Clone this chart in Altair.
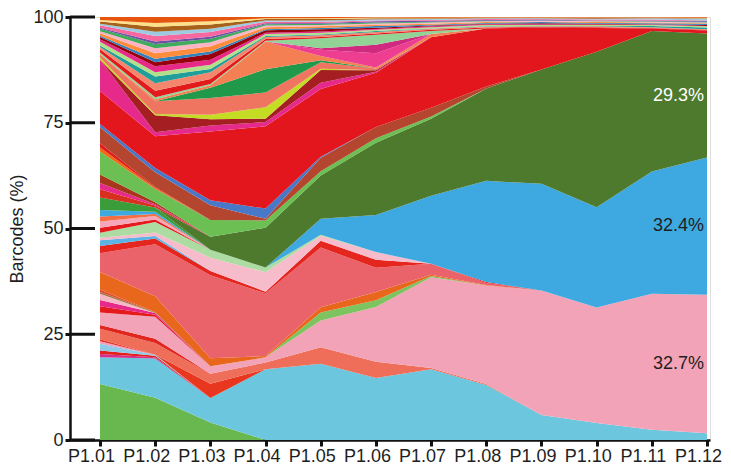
import altair as alt
import pandas as pd

timepoints = ["P1.01", "P1.02", "P1.03", "P1.04", "P1.05", "P1.06",
              "P1.07", "P1.08", "P1.09", "P1.10", "P1.11", "P1.12"]
y_ticks = [0, 25, 50, 75, 100]

# barcode shares (%) per time point, bottom of the stack first
green_base = [13.4, 10, 4.2, 0, 0, 0, 0, 0, 0, 0, 0, 0]
cyan_main = [6.4, 9.3, 5.8, 16.7, 18, 14.6, 16.7, 13, 5.9, 4, 2.4, 1.6]
s1 = [0.8, 0.3, 0, 0, 0, 0, 0, 0, 0, 0, 0, 0]
s2 = [0.8, 0.4, 0, 0, 0, 0, 0, 0, 0, 0, 0, 0]
s3 = [1.6, 0.2, 0, 0, 0, 0, 0, 0, 0, 0, 0, 0]
s4 = [0.6, 0, 0, 0, 0, 0, 0, 0, 0, 0, 0, 0]
red_a = [0.5, 0, 3.4, 0, 0, 0, 0, 0, 0, 0, 0, 0]
salmon_main = [2.5, 2.8, 2.4, 1.6, 3.9, 3.8, 0.3, 0.2, 0, 0, 0, 0]
red_b = [0.9, 1, 0, 0, 0, 0, 0, 0, 0, 0, 0, 0]
pink_main = [3, 5.2, 1.8, 1.2, 6.3, 12.9, 21.4, 23.3, 29.4, 27.3, 32.2, 32.7]
s5 = [1.5, 0.5, 0, 0, 0, 0, 0, 0, 0, 0, 0, 0]
s6 = [1.5, 0.4, 0, 0, 0, 0, 0, 0, 0, 0, 0, 0]
s7 = [1.5, 0, 0, 0, 0, 0, 0, 0, 0, 0, 0, 0]
s8 = [0.4, 0.2, 0, 0, 0, 0, 0, 0, 0, 0, 0, 0]
s9 = [0.6, 0, 0, 0, 0, 0, 0, 0, 0, 0, 0, 0]
lightgreen_a = [0, 0, 0, 0, 1.9, 1.6, 0.3, 0, 0, 0, 0, 0]
orange_main = [4.2, 3.8, 1.9, 0.3, 1.2, 1.9, 0.3, 0.1, 0, 0, 0, 0]
coral_main = [4.5, 12.3, 19.8, 14.8, 14.1, 5.7, 2.6, 0.5, 0, 0, 0, 0]
red_c = [1.7, 1.4, 1, 0.4, 1.6, 1.9, 0, 0.2, 0, 0, 0, 0]
m1 = [1.4, 0.6, 0, 0, 0, 0, 0, 0, 0, 0, 0, 0]
lightpink_main = [0.6, 0.8, 3.2, 4.6, 1.2, 1.8, 0, 0, 0, 0, 0, 0]
palegreen_main = [1.2, 2.5, 1.9, 1.1, 0.2, 0, 0, 0, 0, 0, 0, 0]
m2 = [1.2, 0.6, 0, 0, 0, 0, 0, 0, 0, 0, 0, 0]
m3 = [1.5, 0.8, 0, 0, 0, 0, 0, 0, 0, 0, 0, 0]
m4 = [1.2, 0.5, 0, 0, 0, 0, 0, 0, 0, 0, 0, 0]
blue_main = [1.5, 0.5, 0, 0, 3.8, 8.7, 16, 23.9, 25.2, 23.7, 28.9, 32.4]
m5 = [3, 1, 0, 0, 0, 0, 0, 0, 0, 0, 0, 0]
dkgreen_main = [0, 0, 3.1, 9.4, 10.2, 17, 18.2, 21.8, 27, 36.8, 33.2, 29.3]
l1 = [2, 0.5, 0, 0, 0, 0, 0, 0, 0, 0, 0, 0]
l2 = [1.5, 0.3, 0, 0, 0, 0, 0, 0, 0, 0, 0, 0]
l3 = [2, 0.5, 0, 0, 0, 0, 0, 0, 0, 0, 0, 0]
lightgreen_b = [5.5, 3.1, 4, 1.7, 1, 1.1, 0.5, 0, 0, 0, 0, 0]
l4 = [1, 0.3, 0, 0, 0, 0, 0, 0, 0, 0, 0, 0]
l5 = [1, 0.2, 0, 0, 0, 0, 0, 0, 0, 0, 0, 0]
brown_main = [3.8, 3.5, 3.5, 0.4, 3.2, 2.6, 2.1, 0.5, 0, 0, 0, 0]
blueline = [0.8, 1, 1.2, 2.4, 0.2, 0, 0, 0, 0, 0, 0, 0]
red_main = [7.9, 7.5, 16.4, 19.4, 16, 12.8, 16.6, 13.7, 9.9, 5.6, 0.6, 0.7]
magenta_main = [7.5, 1, 1.4, 1, 1.5, 0.2, 0, 0, 0, 0, 0, 0]
darkred_main = [0, 4, 1.5, 0.8, 3, 0.4, 0, 0, 0, 0, 0, 0]
yellowgreen = [0.5, 0.3, 1.1, 2.7, 0.3, 0, 0, 0, 0, 0, 0, 0]
salmon_top = [0.8, 3, 4, 3.5, 1.5, 0.4, 0, 0, 0, 0, 0, 0]
dkgreen_top = [0, 0, 2.4, 5.5, 0.5, 0, 0, 0, 0, 0, 0, 0]
orange_top = [0, 0.5, 0.6, 6.5, 1, 0.2, 0.8, 0, 0, 0, 0, 0]
hotpink = [0, 0, 0, 0, 1.5, 3.4, 0, 0, 0, 0, 0, 0]
magenta_top = [0, 0, 0, 0, 0.3, 2, 0, 0, 0, 0, 0, 0]
mint = [0.4, 0.5, 0.3, 0.2, 2.4, 2.3, 0.7, 0, 0, 0, 0, 0]
t1 = [0.8, 1.5, 1.2, 0.4, 0.3, 0.3, 0.3, 0.2, 0.2, 0.2, 0.1, 0.2]
t2 = [0.5, 1.8, 1.6, 0.5, 0.4, 0.4, 0.2, 0.2, 0.1, 0.2, 0.2, 0.1]
t3 = [0.4, 1.6, 0.8, 0.2, 0.2, 0.2, 0.1, 0.1, 0.1, 0.1, 0.3, 0.4]
t4 = [0.9, 1.0, 1.0, 0.5, 0.4, 0.3, 0.3, 0.3, 0.2, 0.2, 0.2, 0.3]
t5 = [0.6, 1.4, 1.2, 0.3, 0.3, 0.2, 0.2, 0.2, 0.2, 0.1, 0.1, 0.1]
t6 = [0.5, 1.0, 1.4, 0.6, 0.5, 0.3, 0.2, 0.1, 0.2, 0.2, 0.1, 0.2]
t7 = [0.3, 0.8, 0.6, 0.2, 0.3, 0.4, 0.2, 0.2, 0.3, 0.2, 0.2, 0.3]
t8 = [0.6, 1.3, 1.2, 0.5, 0.4, 0.3, 0.2, 0.2, 0.1, 0.2, 0.2, 0.1]
t9 = [0.5, 1.2, 1.0, 0.4, 0.3, 0.3, 0.3, 0.2, 0.2, 0.2, 0.2, 0.2]
t10 = [0.6, 1.0, 0.8, 0.3, 0.3, 0.2, 0.2, 0.1, 0.1, 0.1, 0.1, 0.2]
t11 = [0.2, 0.6, 0.5, 0.2, 0.2, 0.3, 0.2, 0.2, 0.2, 0.1, 0.2, 0.2]
t12 = [0.6, 1.3, 1.1, 0.4, 0.3, 0.2, 0.2, 0.2, 0.1, 0.2, 0.2, 0.1]
t13 = [0.4, 1.0, 0.8, 0.3, 0.3, 0.3, 0.2, 0.2, 0.2, 0.2, 0.3, 0.4]
t14 = [0.5, 1.2, 1.0, 0.3, 0.3, 0.2, 0.2, 0.1, 0.1, 0.2, 0.1, 0.1]
t15 = [0.4, 0.9, 0.8, 0.2, 0.2, 0.2, 0.1, 0.1, 0.1, 0.1, 0.1, 0.1]
t16 = [0.7, 1.4, 1.0, 0.3, 0.3, 0.1, 0.2, 0.1, 0.1, 0.1, 0.1, 0.2]

series = [
    ("green_base", green_base, "#69b84f"),
    ("cyan_main", cyan_main, "#6cc6de"),
    ("s1", s1, "#d6308a"),
    ("s2", s2, "#e3201b"),
    ("s3", s3, "#8fcbe6"),
    ("s4", s4, "#f29fc0"),
    ("red_a", red_a, "#e8361f"),
    ("salmon_main", salmon_main, "#ee6e5a"),
    ("red_b", red_b, "#e0261f"),
    ("pink_main", pink_main, "#f3a3b7"),
    ("s5", s5, "#e41a1c"),
    ("s6", s6, "#e7298a"),
    ("s7", s7, "#f6b8c6"),
    ("s8", s8, "#9c7a3c"),
    ("s9", s9, "#e34a33"),
    ("lightgreen_a", lightgreen_a, "#7dc35f"),
    ("orange_main", orange_main, "#e8671c"),
    ("coral_main", coral_main, "#ea636b"),
    ("red_c", red_c, "#e5261f"),
    ("m1", m1, "#5ab4e5"),
    ("lightpink_main", lightpink_main, "#f7bccb"),
    ("palegreen_main", palegreen_main, "#acdca2"),
    ("m2", m2, "#e41a1c"),
    ("m3", m3, "#f7a8b8"),
    ("m4", m4, "#f46d43"),
    ("blue_main", blue_main, "#3ea8e0"),
    ("m5", m5, "#3a9d3a"),
    ("dkgreen_main", dkgreen_main, "#4e7a2e"),
    ("l1", l1, "#d7301f"),
    ("l2", l2, "#e7298a"),
    ("l3", l3, "#a6361c"),
    ("lightgreen_b", lightgreen_b, "#6cbf52"),
    ("l4", l4, "#f16913"),
    ("l5", l5, "#e31a1c"),
    ("brown_main", brown_main, "#b4452f"),
    ("blueline", blueline, "#4a78c8"),
    ("red_main", red_main, "#e3161d"),
    ("magenta_main", magenta_main, "#e52a8c"),
    ("darkred_main", darkred_main, "#a51e22"),
    ("yellowgreen", yellowgreen, "#c5dc24"),
    ("salmon_top", salmon_top, "#ef7560"),
    ("dkgreen_top", dkgreen_top, "#20994a"),
    ("orange_top", orange_top, "#f47f52"),
    ("hotpink", hotpink, "#ee3e92"),
    ("magenta_top", magenta_top, "#cf2a7f"),
    ("mint", mint, "#92d396"),
    ("t1", t1, "#e31a1c"),
    ("t2", t2, "#f4866e"),
    ("t3", t3, "#1f9e9a"),
    ("t4", t4, "#b2df8a"),
    ("t5", t5, "#e7298a"),
    ("t6", t6, "#99000d"),
    ("t7", t7, "#3182bd"),
    ("t8", t8, "#fd8d3c"),
    ("t9", t9, "#fbb4c4"),
    ("t10", t10, "#41ab5d"),
    ("t11", t11, "#6a51a3"),
    ("t12", t12, "#f768a1"),
    ("t13", t13, "#9ecae1"),
    ("t14", t14, "#a6611a"),
    ("t15", t15, "#fee08b"),
    ("t16", t16, "#e6550d"),
]

label_keys = ["pink_main", "blue_main", "dkgreen_main"]
label_colors = ["#1e1e1e", "#1e1e1e", "#ffffff"]

rows = []
for k, (name, vals, _c) in enumerate(series):
    for i, v in enumerate(vals):
        rows.append({"key": name, "k": k, "i": i, "v": v})
df = pd.DataFrame(rows)
df["v"] = df["v"] / df.groupby("i")["v"].transform("sum") * 100

last = df[df["i"] == len(timepoints) - 1].sort_values("k").copy()
last["top"] = last["v"].cumsum()
last["mid"] = last["top"] - last["v"] / 2
lab = last[last["key"].isin(label_keys)].copy()
lab["text"] = lab["v"].map(lambda x: f"{x:.1f}%")
lab["tc"] = lab["key"].map(dict(zip(label_keys, label_colors)))

keys = [s[0] for s in series]
colors = [s[2] for s in series]

label_js = "[" + ",".join(f"'{t}'" for t in timepoints) + "]"
FONT = "Liberation Sans"

xscale = alt.Scale(domain=[-0.544, 11.054], nice=False, zero=False)
yscale = alt.Scale(domain=[0, 100], nice=False)

area = alt.Chart(df).mark_area(interpolate="linear").encode(
    x=alt.X("i:Q", scale=xscale,
            axis=alt.Axis(values=list(range(len(timepoints))),
                          labelExpr=f"{label_js}[round(datum.value)]",
                          title=None, grid=False, domainColor="#111",
                          domainWidth=2.5, tickColor="#111", tickWidth=3,
                          tickSize=6, labelFontSize=18, labelColor="#1e1e1e",
                          labelPadding=1, labelOffset=-9, labelFont=FONT,
                          labelFlush=False, labelOverlap=False)),
    y=alt.Y("v:Q", stack="zero", scale=yscale,
            axis=alt.Axis(values=y_ticks, title="Barcodes (%)", grid=False,
                          domainColor="#111", domainWidth=2.5,
                          tickColor="#111", tickWidth=3, tickSize=5,
                          labelFontSize=18, labelColor="#1e1e1e",
                          labelPadding=2, labelFont=FONT, titleFont=FONT,
                          titleFontSize=18, titleFontWeight="normal",
                          titleColor="#1e1e1e", titlePadding=6)),
    color=alt.Color("key:N", scale=alt.Scale(domain=keys, range=colors),
                    legend=None),
    order=alt.Order("k:Q", sort="ascending"),
)

ticks_df = pd.DataFrame({"t": y_ticks})
inner_ticks = alt.Chart(ticks_df).mark_rule(color="#111", strokeWidth=3).encode(
    y=alt.Y("t:Q", scale=yscale),
    x=alt.value(0),
    x2=alt.value(25),
)

labels = alt.Chart(lab).mark_text(align="right", baseline="middle",
                                  fontSize=18, font=FONT, dx=-3).encode(
    x=alt.X("i:Q", scale=xscale),
    y=alt.Y("mid:Q", scale=yscale),
    text="text:N",
    fill=alt.Fill("tc:N", scale=None),
)

chart = alt.layer(area, inner_ticks, labels).properties(
    width=640, height=423,
    autosize=alt.AutoSizeParams(type="none"),
    padding={"left": 62, "top": 9, "right": 13, "bottom": 27},
).configure_view(stroke=None).configure(background="white")

chart.save("out.html", embed_options={"renderer": "svg", "actions": False})
